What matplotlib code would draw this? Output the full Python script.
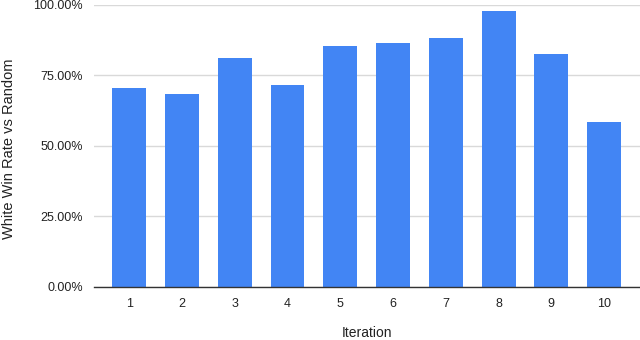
import matplotlib.pyplot as plt
from matplotlib.ticker import FuncFormatter

plt.rcParams['font.family'] = ['Liberation Sans', 'DejaVu Sans']

iterations = [1, 2, 3, 4, 5, 6, 7, 8, 9, 10]
win_rate = [70.4, 68.2, 81.2, 71.5, 85.4, 86.5, 88.1, 97.9, 82.5, 58.5]
y_ticks = [0, 25, 50, 75, 100]

fig = plt.figure(figsize=(6.4, 3.4), dpi=100)
ax = fig.add_axes([94 / 640, 1 - 286.7 / 340, 546 / 640, 282 / 340])

ax.bar(iterations, win_rate, width=0.64, color='#4285F4', zorder=3)

ax.set_ylim(0, 100)
ax.set_xlim(0.33, 10.68)
ax.set_yticks(y_ticks)
ax.yaxis.set_major_formatter(FuncFormatter(lambda v, p: f"{v:.2f}%"))
ax.set_xticks(iterations)
ax.grid(axis='y', color='#d9d9d9', linewidth=1, zorder=0)

for s in ['top', 'right', 'left']:
    ax.spines[s].set_visible(False)
ax.spines['bottom'].set_color('#333333')
ax.spines['bottom'].set_linewidth(1)
ax.spines['bottom'].set_zorder(4)

ax.tick_params(axis='both', length=0, labelsize=9, colors='#222222')
ax.tick_params(axis='y', pad=8)
ax.tick_params(axis='x', pad=8)

fig.text(9 / 640, 1 - 149 / 340, "White Win Rate vs Random", rotation=90,
         ha='center', va='center', fontsize=10.5, color='#222222')
fig.text(367 / 640, 1 - 333 / 340, "Iteration", ha='center', va='center',
         fontsize=10, color='#222222')

fig.savefig("out.png", dpi=100)
